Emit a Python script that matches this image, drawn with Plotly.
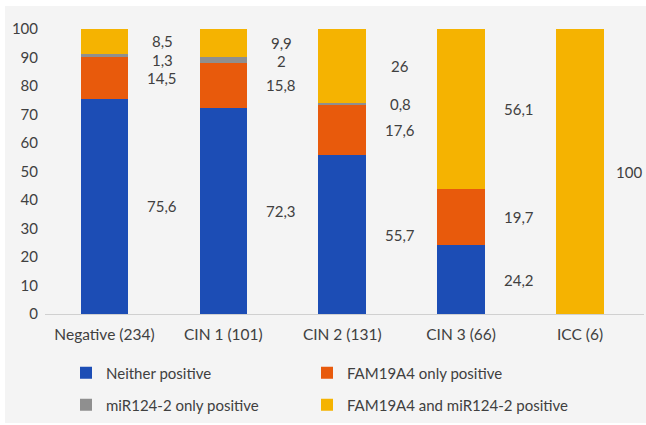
import plotly.graph_objects as go

categories = ["Negative (234)", "CIN 1 (101)", "CIN 2 (131)", "CIN 3 (66)", "ICC (6)"]
neither = [75.6, 72.3, 55.7, 24.2, 0]
fam_only = [14.5, 15.8, 17.6, 19.7, 0]
mir_only = [1.3, 2, 0.8, 0, 0]
both = [8.5, 9.9, 26, 56.1, 100]
y_ticks = list(range(0, 101, 10))

W, H = 646, 425
ml, mr, mt, mb = 45, 2, 29, 111
pw, ph = W - ml - mr, H - mt - mb
def px(xp):
    return (xp - ml) / pw
def py(yp):
    return (H - mb - yp) / ph

# legend slot for each series: (legend id, left px, row center px)
series = [
    ("Neither positive", neither, "#1c4db5", "legend", 66, 373),
    ("FAM19A4 only positive", fam_only, "#e85a0c", "legend2", 307, 373),
    ("miR124-2 only positive", mir_only, "#8f8f8f", "legend3", 66, 405),
    ("FAM19A4 and miR124-2 positive", both, "#f5b301", "legend4", 307, 405),
]

FONT = "Lato"
TXT = "#404040"

fig = go.Figure()
for name, vals, color, lg, lx, ly in series:
    fig.add_trace(go.Bar(
        x=categories, y=vals, name=name, marker=dict(color=color, line=dict(width=0)),
        width=0.4, legend=lg,
    ))

# value labels to the right of each bar, at segment midpoints, nudged to avoid overlap
SEP = 6.4
for i, cat in enumerate(categories):
    base = 0
    mids = []
    for name, vals, *_ in series:
        v = vals[i]
        if v > 0:
            mids.append((base + v / 2, v))
        base += v
    mids.sort(key=lambda t: -t[0])
    prev = None
    shift = 58 if i < len(categories) - 1 else 49
    for m, v in mids:
        y = m if prev is None else min(m, prev - SEP)
        prev = y
        txt = ("%g" % v).replace(".", ",")
        fig.add_annotation(x=cat, y=y, xref="x", yref="y", text=txt, showarrow=False,
                           xshift=shift, font=dict(family=FONT, size=15, color=TXT))

fig.add_shape(type="rect", xref="paper", yref="paper",
              x0=px(5), x1=px(646), y0=py(423), y1=py(6),
              fillcolor="#f4f4f4", line=dict(width=0), layer="below")

legends = {}
for name, vals, color, lg, lx, ly in series:
    legends[lg] = dict(orientation="h", xref="container", yref="container",
                       x=lx / W, xanchor="left", y=1 - ly / H, yanchor="middle",
                       bgcolor="rgba(0,0,0,0)", font=dict(family=FONT, size=15, color=TXT))

fig.update_layout(
    width=W, height=H,
    margin=dict(l=ml, r=mr, t=mt, b=mb),
    paper_bgcolor="white", plot_bgcolor="rgba(0,0,0,0)",
    barmode="stack", bargap=0.6,
    font=dict(family=FONT, size=15, color=TXT),
    showlegend=True,
    xaxis=dict(showline=True, linecolor="#d0d0d0", linewidth=1, ticks="", showgrid=False,
               ticklabelstandoff=6, automargin=False,
               tickfont=dict(family=FONT, size=15.5, color=TXT)),
    yaxis=dict(range=[0, 100], tickvals=y_ticks, showgrid=False, zeroline=False,
               showline=False, ticks="", ticklabelstandoff=6, automargin=False,
               tickfont=dict(family=FONT, size=15, color=TXT)),
    **legends,
)

fig.write_html("out.html", config={"displayModeBar": False},
               post_script="document.body.style.margin='0';")
